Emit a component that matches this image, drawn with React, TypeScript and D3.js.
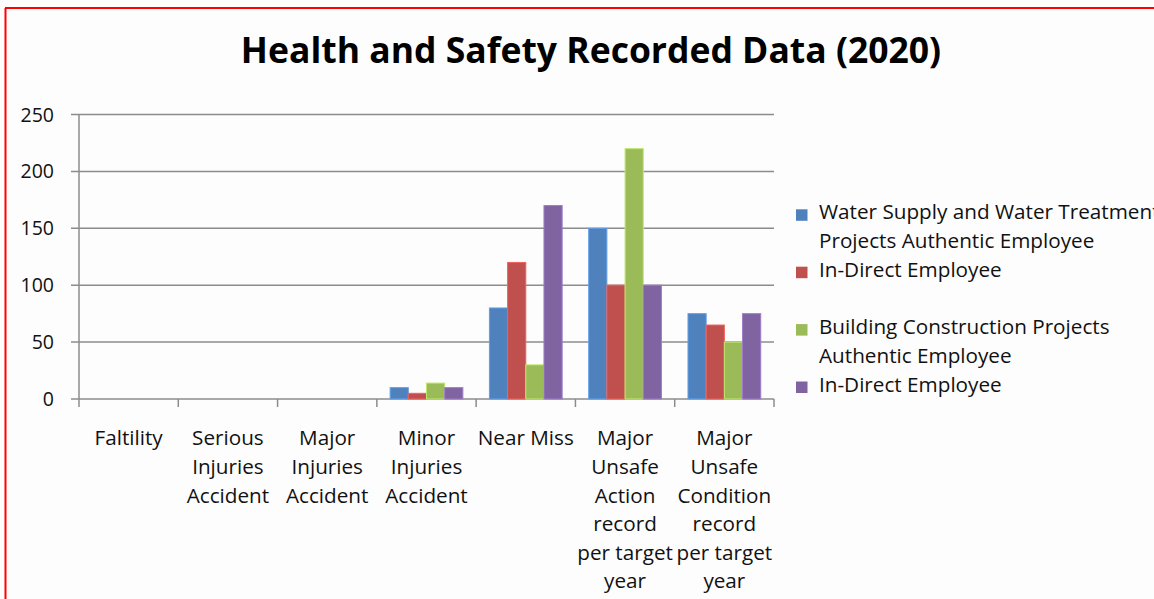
import * as d3 from "d3";

const title = "Health and Safety Recorded Data (2020)";

const categories = [
  "Faltility",
  "Serious Injuries Accident",
  "Major Injuries Accident",
  "Minor Injuries Accident",
  "Near Miss",
  "Major Unsafe Action record per target year",
  "Major Unsafe Condition record per target year",
];
// how each category label breaks in the picture
const categoryLines = [
  ["Faltility"],
  ["Serious", "Injuries", "Accident"],
  ["Major", "Injuries", "Accident"],
  ["Minor", "Injuries", "Accident"],
  ["Near Miss"],
  ["Major", "Unsafe", "Action", "record", "per target", "year"],
  ["Major", "Unsafe", "Condition", "record", "per target", "year"],
];

const seriesNames = ["waterAuthentic", "waterIndirect", "buildingAuthentic", "buildingIndirect"];
const legendLines = [
  ["Water Supply and Water Treatment", "Projects Authentic Employee"],
  ["In-Direct Employee"],
  ["Building Construction Projects", "Authentic Employee"],
  ["In-Direct Employee"],
];
const colors = ["#4F81BD", "#C0504D", "#9BBB59", "#8064A2"];

const waterAuthentic = [0, 0, 0, 10, 80, 150, 75];
const waterIndirect = [0, 0, 0, 5, 120, 100, 65];
const buildingAuthentic = [0, 0, 0, 14, 30, 220, 50];
const buildingIndirect = [0, 0, 0, 10, 170, 100, 75];
const seriesValues = [waterAuthentic, waterIndirect, buildingAuthentic, buildingIndirect];

const yTicks = [0, 50, 100, 150, 200, 250];

const width = 1154,
  height = 599;
const FONT = "'Open Sans', 'DejaVu Sans', sans-serif";
const FS = 20.7;
const LINE = 28.6;
const AXIS = "#8c8c8c";

export default function App() {
  const x = d3.scaleBand().domain(categories).range([79, 774]).padding(0);
  const inner = d3
    .scaleBand()
    .domain(seriesNames)
    .range([0, x.bandwidth()])
    .paddingInner(0)
    .paddingOuter(0.73);
  const y = d3.scaleLinear().domain([0, 250]).range([399, 114.5]);

  const bars = categories.map((c, ci) => (
    <g key={c} transform={`translate(${x(c)},0)`}>
      {seriesNames.map((s, si) => {
        const v = seriesValues[si][ci];
        if (!v) return null;
        return (
          <rect
            key={s}
            x={inner(s)}
            y={y(v)}
            width={inner.bandwidth()}
            height={y(0) - y(v)}
            fill={colors[si]}
            stroke={d3.color(colors[si])!.brighter(0.6).toString()}
            strokeWidth={1}
          />
        );
      })}
    </g>
  ));

  const grid = yTicks.map((t) => (
    <g key={t}>
      <line x1={t > 0 ? 71 : 71} x2={t > 0 ? 774 : 79} y1={y(t)} y2={y(t)} stroke={AXIS} strokeWidth={1.5} />
      <text
        x={54}
        y={y(t) + 7}
        textAnchor="end"
        fontSize={19.5}
        fontFamily={FONT}
        fill="#111"
      >
        {t}
      </text>
    </g>
  ));

  const xTicks = [...categories.map((c) => x(c)!), 774];

  // legend rows: entries spread evenly, a blank row between 2nd and 3rd
  const legendRowStart = [0, 2, 4, 6];

  return (
    <svg
      width={width}
      height={height}
      style={{ position: "absolute", left: 0, top: 0, background: "#fdfdfd" }}
    >
      <line x1={5.5} x2={5.5} y1={8} y2={height} stroke="#ff0000" strokeWidth={2} />
      <line x1={5} x2={width} y1={8} y2={8} stroke="#ff0000" strokeWidth={2} />
      <text
        x={591}
        y={62.5}
        textAnchor="middle"
        fontSize={35.5}
        fontWeight="bold"
        fontFamily={FONT}
        fill="#000"
      >
        {title}
      </text>
      {grid}
      <line x1={79} x2={79} y1={114.5} y2={399} stroke={AXIS} strokeWidth={1.5} />
      <line x1={79} x2={774} y1={399} y2={399} stroke={AXIS} strokeWidth={1.5} />
      {xTicks.map((t, i) => (
        <line key={i} x1={t} x2={t} y1={399} y2={407} stroke={AXIS} strokeWidth={1.5} />
      ))}
      {bars}
      {categories.map((c, ci) => (
        <text
          key={c}
          x={x(c)! + x.bandwidth() / 2}
          textAnchor="middle"
          fontSize={FS}
          fontFamily={FONT}
          fill="#111"
        >
          {categoryLines[ci].map((l, li) => (
            <tspan key={li} x={x(c)! + x.bandwidth() / 2} y={445.3 + li * LINE}>
              {l}
            </tspan>
          ))}
        </text>
      ))}
      {legendLines.map((lines, i) => {
        const base = 219.3 + legendRowStart[i] * 28.7;
        return (
          <g key={i}>
            <rect x={796} y={base - 10} width={11.5} height={11.5} fill={colors[i]} />
            {lines.map((l, li) => (
              <text
                key={li}
                x={819}
                y={base + li * 28.7}
                fontSize={FS}
                fontFamily={FONT}
                fill="#111"
              >
                {l}
              </text>
            ))}
          </g>
        );
      })}
    </svg>
  );
}
